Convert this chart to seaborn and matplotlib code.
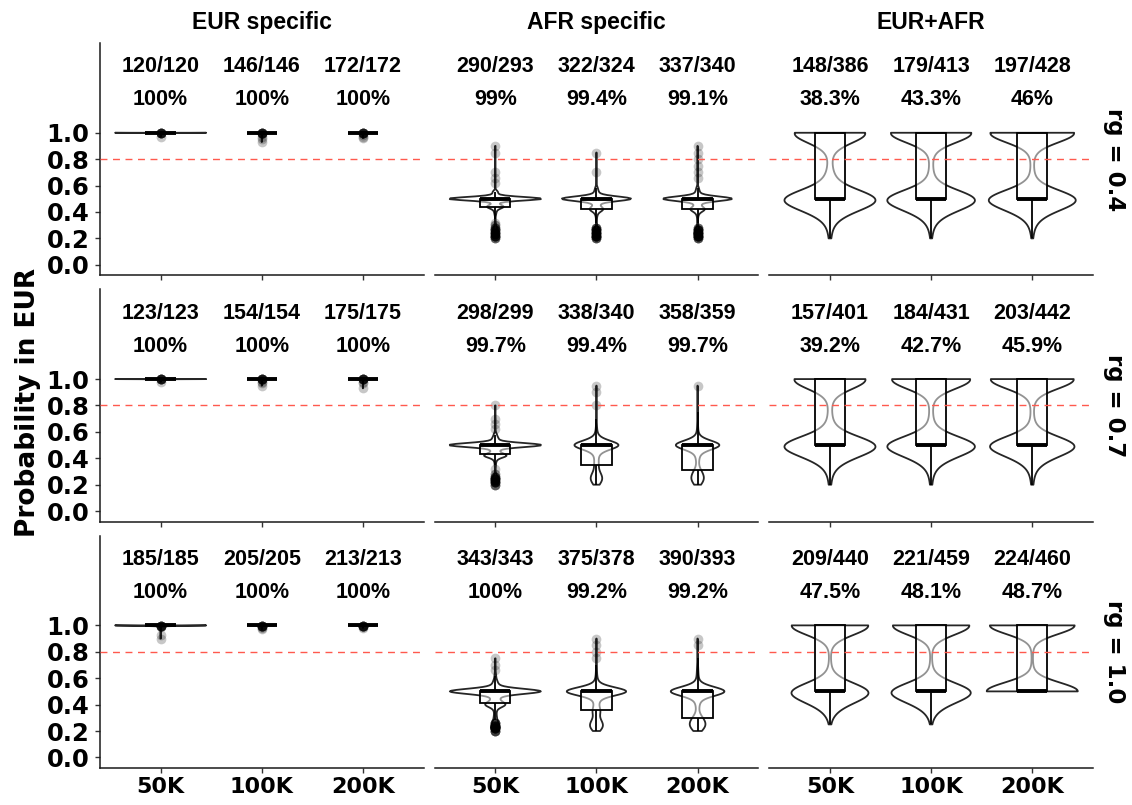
import numpy as np
import pandas as pd
import matplotlib
matplotlib.use('Agg')
import matplotlib.pyplot as plt
import seaborn as sns

sizes = ['50K', '100K', '200K']
groups = ['EUR specific', 'AFR specific', 'EUR+AFR']
rg_labels = ['rg = 0.4', 'rg = 0.7', 'rg = 1.0']

# correct / total counts shown above each violin (rows = rg, cols = size)
hits_eur = [[120, 146, 172], [123, 154, 175], [185, 205, 213]]
totals_eur = [[120, 146, 172], [123, 154, 175], [185, 205, 213]]
hits_afr = [[290, 322, 337], [298, 338, 358], [343, 375, 390]]
totals_afr = [[293, 324, 340], [299, 340, 359], [343, 378, 393]]
hits_mix = [[148, 179, 197], [157, 184, 203], [209, 221, 224]]
totals_mix = [[386, 413, 428], [401, 431, 442], [440, 459, 460]]

# probability values and how many SNPs sit at each value
eur_vals = [0.90, 0.93, 0.95, 0.96, 0.97, 0.98, 0.99, 0.998, 0.999, 1.00]
eur_counts = [
    [[0, 0, 0, 0, 1, 0, 0, 4, 5, 110], [0, 1, 1, 0, 1, 0, 1, 4, 5, 133], [0, 0, 0, 1, 1, 1, 0, 4, 5, 160]],
    [[0, 0, 0, 0, 0, 1, 0, 4, 5, 113], [0, 0, 1, 0, 1, 1, 1, 4, 5, 141], [0, 1, 0, 0, 1, 1, 0, 4, 5, 163]],
    [[1, 1, 0, 0, 0, 0, 1, 4, 5, 173], [0, 0, 0, 0, 1, 1, 1, 4, 5, 193], [0, 0, 0, 0, 0, 1, 1, 4, 5, 202]],
]

afr_vals = [0.20, 0.22, 0.24, 0.26, 0.28, 0.30, 0.32, 0.35, 0.38, 0.40, 0.42, 0.44, 0.46,
            0.48, 0.50, 0.52, 0.55, 0.58, 0.62, 0.66, 0.70, 0.75, 0.80, 0.85, 0.90, 0.95]
afr_counts = [
    [[4, 8, 8, 6, 4, 2, 1, 1, 2, 3, 5, 30, 6, 6, 180, 12, 10, 0, 1, 1, 1, 0, 0, 1, 1, 0],
     [5, 10, 10, 8, 5, 0, 2, 2, 4, 4, 32, 8, 8, 8, 188, 12, 10, 6, 0, 0, 1, 0, 0, 1, 0, 0],
     [5, 10, 10, 8, 4, 0, 2, 2, 4, 5, 36, 8, 8, 8, 196, 12, 10, 6, 0, 1, 1, 1, 1, 1, 1, 0]],
    [[4, 8, 8, 5, 2, 0, 1, 2, 3, 4, 38, 8, 8, 8, 169, 12, 10, 5, 1, 1, 1, 0, 1, 0, 0, 0],
     [6, 14, 18, 16, 12, 6, 3, 12, 4, 5, 6, 6, 10, 14, 168, 16, 10, 5, 3, 2, 1, 0, 1, 0, 1, 1],
     [8, 16, 20, 18, 12, 16, 3, 4, 4, 5, 5, 6, 8, 12, 188, 14, 8, 4, 3, 2, 1, 1, 0, 0, 0, 1]],
    [[6, 10, 8, 6, 4, 3, 3, 4, 6, 36, 8, 8, 8, 10, 187, 14, 10, 6, 3, 1, 1, 1, 0, 0, 0, 0],
     [6, 16, 18, 14, 10, 6, 4, 21, 5, 5, 6, 6, 10, 14, 195, 16, 10, 5, 3, 2, 2, 1, 1, 1, 1, 0],
     [8, 18, 22, 20, 14, 17, 3, 4, 4, 5, 5, 6, 8, 12, 207, 14, 9, 5, 4, 3, 2, 1, 0, 1, 1, 0]],
]

mix_vals = [0.20, 0.25, 0.30, 0.35, 0.40, 0.45, 0.50, 0.55, 0.60, 0.65, 0.70, 0.75,
            0.80, 0.85, 0.90, 0.95, 1.00]
mix_counts = [
    [[2, 2, 3, 5, 24, 40, 124, 16, 8, 6, 4, 2, 2, 2, 4, 16, 126],
     [1, 2, 3, 5, 22, 38, 140, 8, 5, 3, 3, 2, 2, 2, 3, 12, 162],
     [1, 2, 3, 5, 21, 36, 148, 7, 4, 3, 2, 2, 2, 2, 3, 12, 175]],
    [[2, 2, 3, 5, 24, 40, 139, 12, 6, 4, 3, 2, 2, 2, 3, 14, 138],
     [2, 2, 3, 5, 23, 38, 150, 9, 5, 3, 3, 2, 2, 2, 3, 13, 166],
     [2, 2, 3, 5, 22, 36, 152, 7, 4, 3, 2, 2, 2, 2, 3, 12, 183]],
    [[0, 1, 2, 5, 22, 38, 154, 6, 3, 2, 2, 1, 1, 1, 2, 10, 190],
     [0, 1, 2, 5, 22, 38, 167, 6, 3, 2, 2, 1, 1, 1, 2, 10, 196],
     [0, 0, 0, 0, 0, 0, 231, 3, 2, 1, 1, 1, 1, 1, 1, 2, 216]],
]

panels = [(eur_vals, eur_counts, hits_eur, totals_eur),
          (afr_vals, afr_counts, hits_afr, totals_afr),
          (mix_vals, mix_counts, hits_mix, totals_mix)]

frames = []
for r, rg in enumerate(rg_labels):
    for g, (vals, counts, _, _) in enumerate(panels):
        for s, size in enumerate(sizes):
            frames.append(pd.DataFrame({'rg': rg, 'group': groups[g], 'gwas': size,
                                        'prob': np.repeat(vals, counts[r][s])}))
df = pd.concat(frames, ignore_index=True)


def nrd0(kde):
    # R's default bandwidth (bw.nrd0), as a factor of the sample sd
    x = kde.dataset[0]
    sd = x.std(ddof=1)
    iqr = np.subtract(*np.percentile(x, [75, 25]))
    lo = min(sd, iqr / 1.34) or sd
    return 0.9 * lo * len(x) ** -0.2 / sd


sns.set_style('ticks')
plt.rcParams['font.family'] = ['DejaVu Sans']
plt.rcParams.update({'text.color': 'black', 'axes.labelcolor': 'black',
                     'xtick.color': 'black', 'ytick.color': 'black'})
label_font = ['Liberation Sans', 'DejaVu Sans']
eur_width = [0.9, 0.25, 0.25]

fig, axes = plt.subplots(3, 3, figsize=(11.32, 8.05), dpi=100)
fig.subplots_adjust(left=0.0883, right=0.9655, top=0.9466, bottom=0.046,
                    wspace=0.034, hspace=0.06)

for r, rg in enumerate(rg_labels):
    for c, grp in enumerate(groups):
        ax = axes[r, c]
        sub = df[(df['rg'] == rg) & (df['group'] == grp)]
        if c == 0:
            for s, size in enumerate(sizes):
                sns.violinplot(data=sub[sub['gwas'] == size], x='gwas', y='prob', order=sizes,
                               density_norm='width', width=eur_width[s], cut=0, inner=None,
                               fill=False, color='#262626', linewidth=1.3, ax=ax)
        else:
            sns.violinplot(data=sub, x='gwas', y='prob', order=sizes, density_norm='area',
                           width=0.9, cut=0, bw_method=nrd0, inner=None, fill=False,
                           color='#262626', linewidth=1.3, ax=ax)
        sns.boxplot(data=sub, x='gwas', y='prob', order=sizes, width=0.3, color='white',
                    saturation=1, linecolor='black', linewidth=1.3, showcaps=False,
                    medianprops=dict(color='black', linewidth=2.8),
                    flierprops=dict(marker='o', markersize=7, markerfacecolor=(0, 0, 0, 0.22),
                                    markeredgecolor='none'),
                    ax=ax)
        for patch in ax.patches:
            patch.set_facecolor((1, 1, 1, 0.5))
        ax.axhline(0.8, color='#ff5a4e', lw=1, ls=(0, (5, 4)), zorder=3)

        _, _, hits, totals = panels[c]
        for s in range(3):
            h, t = hits[r][s], totals[r][s]
            ax.text(s, 1.5, f'{h}/{t}', ha='center', va='center', fontsize=15.5,
                    fontweight='bold', family=label_font)
            ax.text(s, 1.25, f'{round(100 * h / t, 1):g}%', ha='center', va='center',
                    fontsize=15.5, fontweight='bold', family=label_font)

        ax.set_xlim(-0.6, 2.6)
        ax.set_ylim(-0.08, 1.68)
        ax.set_yticks([0, 0.2, 0.4, 0.6, 0.8, 1.0])
        ax.set_yticklabels(['0.0', '0.2', '0.4', '0.6', '0.8', '1.0'])
        ax.set_xticks([0, 1, 2])
        ax.set_xticklabels(sizes)
        ax.set_xlabel('')
        ax.set_ylabel('')
        for sp in ['top', 'right']:
            ax.spines[sp].set_visible(False)
        for sp in ['left', 'bottom']:
            ax.spines[sp].set_linewidth(1.1)
            ax.spines[sp].set_color('#1a1a1a')
        ax.tick_params(axis='both', length=3.6, width=1.0, color='#333333', pad=4)
        ax.tick_params(axis='y', labelsize=17.5)
        ax.tick_params(axis='x', labelsize=16)
        for lab in ax.get_xticklabels() + ax.get_yticklabels():
            lab.set_fontweight('bold')
        if c > 0:
            ax.spines['left'].set_visible(False)
            ax.tick_params(axis='y', left=False, labelleft=False)
        if r < 2:
            ax.tick_params(axis='x', labelbottom=False)
        else:
            ax.tick_params(axis='x', pad=3)
        if r == 0:
            ax.set_title(grp, fontsize=16.5, fontweight='bold', family=label_font, pad=10)
        if c == 2:
            ax.text(1.068, 0.5, rg, transform=ax.transAxes, rotation=270, ha='center',
                    va='center', fontsize=16.5, fontweight='bold')

fig.text(0.025, 0.5, 'Probability in EUR', rotation=90, ha='center', va='center',
         fontsize=19, fontweight='bold')

fig.savefig('out.png', dpi=100)
